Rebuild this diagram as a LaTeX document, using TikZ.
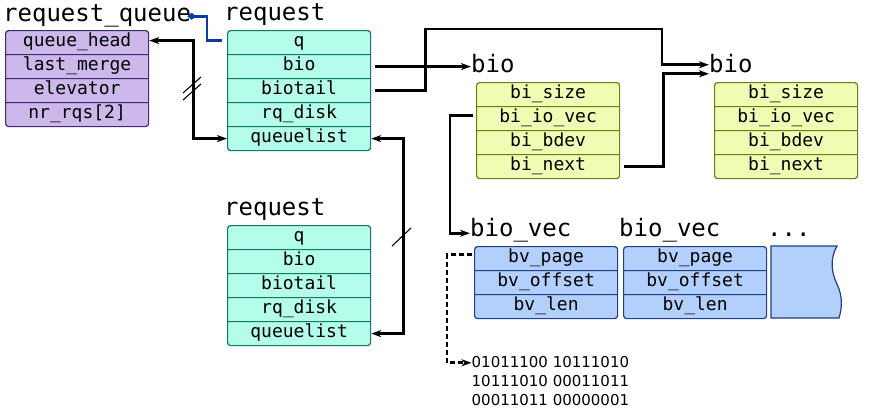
\documentclass[tikz,border=0pt]{standalone}
\usepackage{fontspec}
\setmainfont{DejaVu Sans}
\setmonofont{DejaVu Sans Mono}
\usetikzlibrary{shapes.multipart,arrows.meta}
\definecolor{qfill}{HTML}{CCB8EB}
\definecolor{qline}{HTML}{3E2A72}
\definecolor{rfill}{HTML}{B3FDEA}
\definecolor{rline}{HTML}{0F7B63}
\definecolor{bfill}{HTML}{EEFDB3}
\definecolor{bline}{HTML}{6C7F10}
\definecolor{vfill}{HTML}{B3D0FD}
\definecolor{vline}{HTML}{1F3F87}
\definecolor{qlink}{HTML}{0B3DA0}
\tikzset{
	title/.style={anchor=base west, inner sep=0pt, font=\ttfamily\fontsize{24}{28}\selectfont},
	record/.style={rectangle split, rectangle split parts=#1, draw, line width=1.2pt,
		rounded corners=3pt, minimum width=143pt, inner xsep=0pt, inner ysep=1.4pt,
		anchor=north west, font=\ttfamily\fontsize{18}{20}\selectfont},
	wire/.style={line width=2.7pt},
	cut/.style={line width=1.1pt},
	bits/.style={anchor=base west, inner sep=0pt, font=\fontsize{15}{19}\selectfont},
}
\begin{document}
\begin{tikzpicture}[x=1pt, y=-1pt, >={Stealth[length=10pt,width=7pt,inset=3pt]}]
			\useasboundingbox (0,0) rectangle (869,410);
			\node[title] (rqt) at (3,21) {request\_queue};
			\node[title] (rAt) at (224,20) {request};
			\node[title] (rBt) at (224,215) {request};
			\node[title] (bAt) at (471,72) {bio};
			\node[title] (bBt) at (709,72) {bio};
			\node[title] (vAt) at (470,236) {bio\_vec};
			\node[title] (vBt) at (619,236) {bio\_vec};
			\node[title] (dots) at (767,236) {...};
			\node[record=4, fill=qfill, draw=qline] (rq) at (5,30) {\strut queue\_head\nodepart{two}\strut last\_merge\nodepart{three}\strut elevator\nodepart{four}\strut nr\_rqs[2]};
			\node[record=5, fill=rfill, draw=rline] (rA) at (227,30) {\strut q\nodepart{two}\strut bio\nodepart{three}\strut biotail\nodepart{four}\strut rq\_disk\nodepart{five}\strut queuelist};
			\node[record=5, fill=rfill, draw=rline] (rB) at (227,225) {\strut q\nodepart{two}\strut bio\nodepart{three}\strut biotail\nodepart{four}\strut rq\_disk\nodepart{five}\strut queuelist};
			\node[record=4, fill=bfill, draw=bline] (bA) at (476,82) {\strut bi\_size\nodepart{two}\strut bi\_io\_vec\nodepart{three}\strut bi\_bdev\nodepart{four}\strut bi\_next};
			\node[record=4, fill=bfill, draw=bline] (bB) at (714,82) {\strut bi\_size\nodepart{two}\strut bi\_io\_vec\nodepart{three}\strut bi\_bdev\nodepart{four}\strut bi\_next};
			\node[record=3, fill=vfill, draw=vline] (vA) at (474,246) {\strut bv\_page\nodepart{two}\strut bv\_offset\nodepart{three}\strut bv\_len};
			\node[record=3, fill=vfill, draw=vline] (vB) at (623,246) {\strut bv\_page\nodepart{two}\strut bv\_offset\nodepart{three}\strut bv\_len};
			\draw[line width=1.2pt, fill=vfill, draw=vline] (771,246) -- (837,246) .. controls (830,258) and (831,272) .. (837,284) .. controls (843,297) and (842,308) .. (839,318) -- (771,318) -- cycle;
			\node[bits] (data1) at (471.5,367.5) {01011100 10111010};
			\node[bits] (data2) at (471.5,386.5) {10111010 00011011};
			\node[bits] (data3) at (471.5,405.5) {00011011 00000001};
			\draw[wire, draw=qlink, {Diamond[length=9pt,width=7pt]}-, shorten >=5pt] ([xshift=-4pt,yshift=2pt]rqt.mid east) -| ([xshift=-20pt,yshift=2pt]rA.text west) -- ([yshift=2pt]rA.text west);
			\draw[wire, <->] ([yshift=2pt]rq.text east) -- ++(44,0) |- (rA.five west);
			\draw[cut] (183,93) -- (201,77) (183,100) -- (201,84);
			\draw[wire, <->] (rA.five east) -- ++(32,0) |- (rB.five east);
			\draw[cut] (392,246) -- (411,228);
			\draw[wire, ->, shorten <=4pt] (rA.two east) -- (rA.two east -| bAt.west);
			\draw[wire, ->, shorten <=4pt] (rA.three east) -- ++(54,0) |- (662,29) |- ([yshift=4.5pt]bBt.mid west);
			\draw[wire, ->, shorten <=4pt] (bA.four east) -- ++(43,0) |- ([yshift=-4.5pt]bBt.mid west);
			\draw[wire, ->, shorten <=3pt] ([yshift=3pt]bA.two west) -- ++(-26,0) |- (vAt.mid west);
			\draw[wire, dash pattern=on 5pt off 3pt, ->, shorten <=2pt] ([yshift=4pt]vA.text west) -- ++(-27,0) |- ([yshift=2pt]data1.mid west);
		\end{tikzpicture}
\end{document}
